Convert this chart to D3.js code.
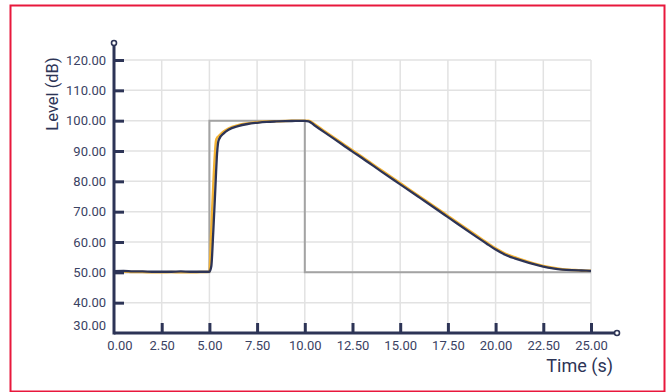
<!DOCTYPE html>
<html>
<head>
<meta charset="utf-8">
<script src="https://cdn.jsdelivr.net/npm/d3@7"></script>
<style>
  html, body { margin: 0; padding: 0; background: #ffffff; }
  svg { display: block; font-family: Roboto, "Noto Sans", sans-serif; }
</style>
</head>
<body>
<svg id="chart" width="667" height="392"></svg>
<script>
// Time base shared by the two measured traces (seconds)
const timeS = [0, 0.5, 1, 1.5, 2, 2.5, 3, 3.5, 4, 4.5, 5, 5.1, 5.2, 5.3, 5.35, 5.4, 5.45, 5.5, 5.75, 6,
  6.5, 7, 7.5, 8, 8.5, 9, 9.5, 10, 10.2, 10.5, 11, 12, 12.5, 13, 14, 15, 16, 17, 17.5, 18, 19, 19.5, 20,
  20.5, 21, 21.5, 22, 22.5, 23, 23.5, 24, 24.5, 25];

// Smoothed level trace (dB)
const levelSmoothed = [50.4, 50.5, 50.3, 50.3, 50.2, 50.2, 50.2, 50.3, 50.2, 50.2, 50.2, 52.0, 63.0, 76.0, 83.0, 89.0, 92.5, 93.8, 95.8, 97.0,
  98.2, 98.9, 99.3, 99.6, 99.75, 99.85, 99.9, 99.95, 99.8, 98.5, 96.3, 92.0, 89.8, 87.7, 83.3, 79.0, 74.7, 70.4, 68.2, 66.0, 61.7, 59.6, 57.5,
  55.8, 54.6, 53.6, 52.7, 51.9, 51.3, 50.9, 50.7, 50.6, 50.5];

// Fast level trace (dB)
const levelFast = [50.2, 50.3, 50.1, 50.1, 50.0, 50.0, 50.1, 50.0, 50.0, 50.1, 50.2, 64.0, 78.0, 90.0, 93.5, 94.3, 94.7, 95.0, 96.4, 97.4,
  98.5, 99.1, 99.5, 99.7, 99.8, 99.9, 99.95, 100.0, 100.0, 98.9, 96.7, 92.4, 90.2, 88.1, 83.7, 79.4, 75.1, 70.8, 68.6, 66.4, 62.1, 60.0, 57.9,
  56.2, 55.0, 53.9, 52.9, 52.1, 51.5, 51.0, 50.8, 50.6, 50.5];

// Input step signal
const stepTime = [0, 5, 5, 10, 10, 25];
const stepLevel = [50, 50, 100, 100, 50, 50];

// Axis ticks
const xTicks = [0, 2.5, 5, 7.5, 10, 12.5, 15, 17.5, 20, 22.5, 25];
const yTicks = [30, 40, 50, 60, 70, 80, 90, 100, 110, 120];

const navy = "#2d3456";
const svg = d3.select("#chart");

// Frame
svg.append("rect")
  .attr("x", 10.5).attr("y", 5.5)
  .attr("width", 654).attr("height", 386)
  .attr("fill", "none")
  .attr("stroke", "#e8183c")
  .attr("stroke-width", 2);

const x = d3.scaleLinear().domain([0, 25]).range([114, 591]);
const y = d3.scaleLinear().domain([30, 120]).range([333, 60]);

// Grid
const grid = svg.append("g").attr("stroke", "#e2e2e2").attr("stroke-width", 1.5);
grid.selectAll("line.v").data(xTicks.slice(1)).join("line")
  .attr("x1", d => x(d)).attr("x2", d => x(d))
  .attr("y1", y(30)).attr("y2", y(120));
grid.selectAll("line.h").data(yTicks.slice(1)).join("line")
  .attr("x1", x(0)).attr("x2", x(25))
  .attr("y1", d => y(d)).attr("y2", d => y(d));

// Traces
const stepLine = d3.line().x((d, i) => x(stepTime[i])).y(d => y(d));
svg.append("path")
  .attr("d", stepLine(stepLevel))
  .attr("fill", "none").attr("stroke", "#a3a3a3").attr("stroke-width", 2);

const traceLine = d3.line().x((d, i) => x(timeS[i])).y(d => y(d)).curve(d3.curveMonotoneX);
svg.append("path")
  .attr("d", traceLine(levelFast))
  .attr("fill", "none").attr("stroke", "#f2b234").attr("stroke-width", 2.5)
  .attr("stroke-linejoin", "round");
svg.append("path")
  .attr("d", traceLine(levelSmoothed))
  .attr("fill", "none").attr("stroke", navy).attr("stroke-width", 2.3)
  .attr("stroke-linejoin", "round");

// Axes
const xAxis = svg.append("g").attr("transform", `translate(0,${y(30)})`)
  .call(d3.axisBottom(x).tickValues(xTicks).tickFormat(d3.format(".2f")).tickSize(-10).tickPadding(8));
const yAxis = svg.append("g").attr("transform", `translate(${x(0)},0)`)
  .call(d3.axisLeft(y).tickValues(yTicks).tickFormat(d3.format(".2f")).tickSize(-10).tickPadding(8));

[xAxis, yAxis].forEach(g => {
  g.select(".domain").remove();
  g.selectAll(".tick line").attr("stroke", navy).attr("stroke-width", 3);
  g.selectAll(".tick text").attr("fill", "#3a4263").attr("font-size", 13)
    .attr("font-family", "Roboto, sans-serif");
});
// The origin ticks share the corner: drop their marks and nudge their labels apart
const xOrigin = xAxis.selectAll(".tick").filter(d => d === 0);
xOrigin.select("line").remove();
xOrigin.select("text").attr("dx", 5.5);
const yOrigin = yAxis.selectAll(".tick").filter(d => d === 30);
yOrigin.select("line").remove();
yOrigin.select("text").attr("y", -8);

// Axis lines with end markers
svg.append("line")
  .attr("x1", x(0)).attr("x2", 617).attr("y1", y(30)).attr("y2", y(30))
  .attr("stroke", navy).attr("stroke-width", 3);
svg.append("line")
  .attr("x1", x(0)).attr("x2", x(0)).attr("y1", y(30) + 1.5).attr("y2", 43)
  .attr("stroke", navy).attr("stroke-width", 3);
svg.append("circle").attr("cx", 617).attr("cy", y(30)).attr("r", 2.5)
  .attr("fill", "#fff").attr("stroke", navy).attr("stroke-width", 1.6);
svg.append("circle").attr("cx", x(0)).attr("cy", 43).attr("r", 2.5)
  .attr("fill", "#fff").attr("stroke", navy).attr("stroke-width", 1.6);

// Titles
svg.append("text")
  .attr("x", 613).attr("y", 372)
  .attr("text-anchor", "end")
  .attr("font-size", 18).attr("fill", navy)
  .text("Time (s)");
svg.append("text")
  .attr("transform", "translate(58,94) rotate(-90)")
  .attr("text-anchor", "middle")
  .attr("font-size", 16.5).attr("fill", navy)
  .text("Level (dB)");
</script>
</body>
</html>
